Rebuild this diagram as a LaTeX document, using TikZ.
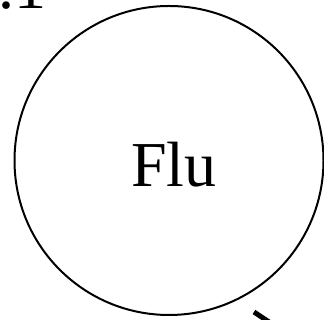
\documentclass[tikz,border=0pt]{standalone}
\usepackage{fontspec}
\setmainfont{Liberation Serif}
\begin{document}
\begin{tikzpicture}[x=1pt,y=1pt,
  statenode/.style={circle, draw, line width=2pt, minimum size=309pt, inner sep=0pt},
  bigtext/.style={font=\fontsize{64}{70}\selectfont, inner sep=0pt},
  edgeline/.style={line width=5pt}]
\useasboundingbox (0,0) rectangle (324,320);
\clip (0,0) rectangle (324,320);
\node[statenode] (flu) at (169,159.5) {};
\node[bigtext, anchor=base] (flulabel) at (174,133) {Flu};
\node[bigtext, anchor=base west] (prob) at (-2,311) {.1};
\coordinate (e0) at (254,8);
\coordinate (e1) at (272,-4);
\draw[edgeline] (e0) -- (e1);
\end{tikzpicture}
\end{document}
